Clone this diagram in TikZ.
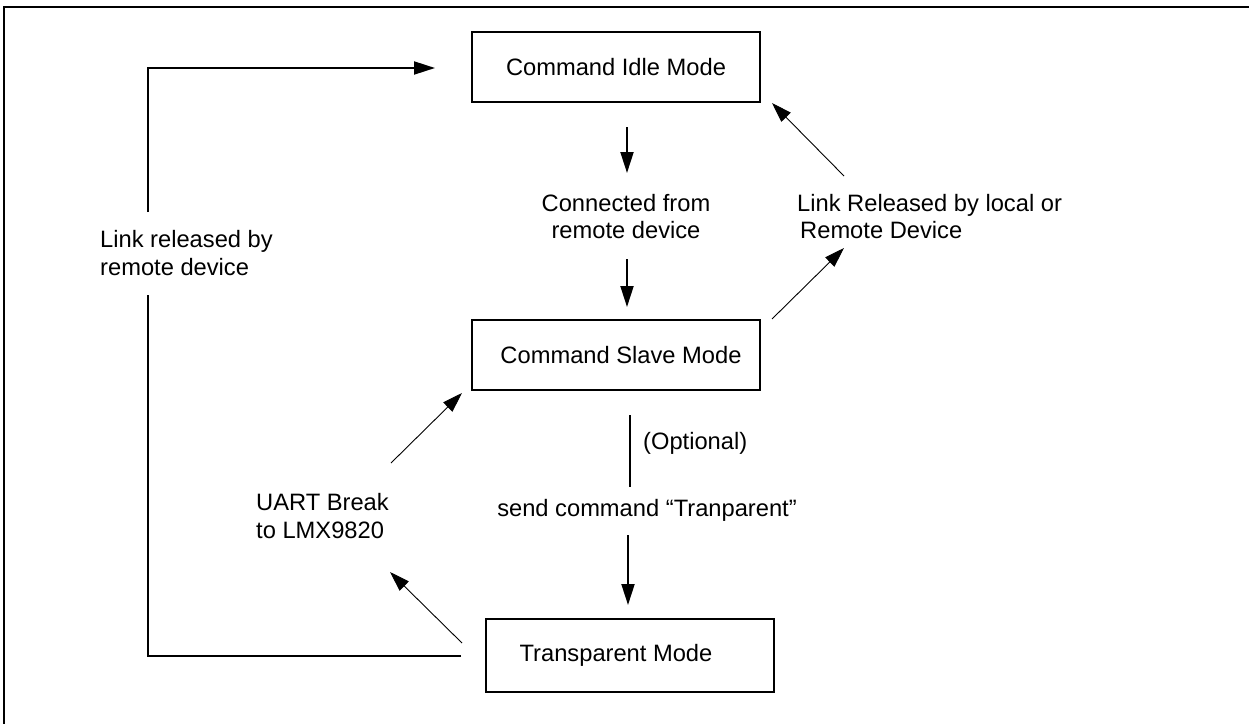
\documentclass[tikz,border=0pt]{standalone}
\usepackage{fontspec}
\setmainfont{Liberation Sans}
\usetikzlibrary{arrows.meta}
\begin{document}
\begin{tikzpicture}[x=1pt,y=-1pt,
  every node/.style={font=\fontsize{23.7}{27.5}\selectfont},
  modebox/.style={draw,line width=2pt,minimum width=288pt,minimum height=70pt,inner sep=0pt},
  lbl/.style={inner sep=0pt},
  frameline/.style={line width=2.6pt},
  flow/.style={line width=2pt,-{Triangle[length=21pt,width=13pt]}},
  plain/.style={line width=2pt},
  thinflow/.style={line width=0.9pt,-{Triangle[length=20pt,width=13pt]}}]
\useasboundingbox (0,0) rectangle (1249,723);

% outer frame (open to the right and bottom)
\draw[frameline] (4,726) -- (4,7) -- (1252,7);

% states
\node[modebox] (idle)  at (616,67)    {Command Idle Mode};
\node[modebox] (slave) at (616,355)   {\hspace*{10pt}Command Slave Mode};
\node[modebox,minimum height=73pt] (trans) at (630,655.5) {Transparent Mode\hspace*{28pt}};

% labels
\node[lbl,align=center] (lconn) at (626,216.5) {Connected from\\remote device};
\node[lbl,align=left,anchor=west] (lrel) at (100,253) {Link released by\\remote device};
\node[lbl,align=left,anchor=west] (lloc) at (797,216.5) {Link Released by local or\\\hspace*{3pt}Remote Device};
\node[lbl,align=left,anchor=west] (luart) at (256,516) {UART Break\\to LMX9820};
\node[lbl,anchor=west] (lopt) at (643,443) {(Optional)};
\node[lbl] (lsend) at (647,510) {send command “Tranparent”};

% connector end points
\coordinate (a1s) at (627,127);  \coordinate (a1e) at (627,173);
\coordinate (a2s) at (627,259);  \coordinate (a2e) at (627,307);
\coordinate (b1s) at (630,415);  \coordinate (b1e) at (630,487);
\coordinate (b2s) at (628,535);  \coordinate (b2e) at (628,605);
\coordinate (c0)  at (461,656);  \coordinate (c1) at (148,656);
\coordinate (c2)  at (148,295);  \coordinate (c3) at (148,212);
\coordinate (c4)  at (148,68);   \coordinate (c5) at (435,68);
\coordinate (u1s) at (462,643);  \coordinate (u1e) at (390,572);
\coordinate (u2s) at (391,463);  \coordinate (u2e) at (462,393);
\coordinate (r1s) at (772,319);  \coordinate (r1e) at (844,248);
\coordinate (r2s) at (844,176);  \coordinate (r2e) at (772,103);

% Idle -> Slave
\draw[flow] (a1s) -- (a1e);
\draw[flow] (a2s) -- (a2e);
% Slave -> Transparent
\draw[plain] (b1s) -- (b1e);
\draw[flow] (b2s) -- (b2e);
% Transparent -> Idle (left loop)
\draw[plain] (c0) -- (c1) -- (c2);
\draw[flow] (c3) -- (c4) -- (c5);
% Transparent -> Slave (UART break)
\draw[thinflow] (u1s) -- (u1e);
\draw[thinflow] (u2s) -- (u2e);
% Slave -> Idle (link released)
\draw[thinflow] (r1s) -- (r1e);
\draw[thinflow] (r2s) -- (r2e);
\end{tikzpicture}
\end{document}
